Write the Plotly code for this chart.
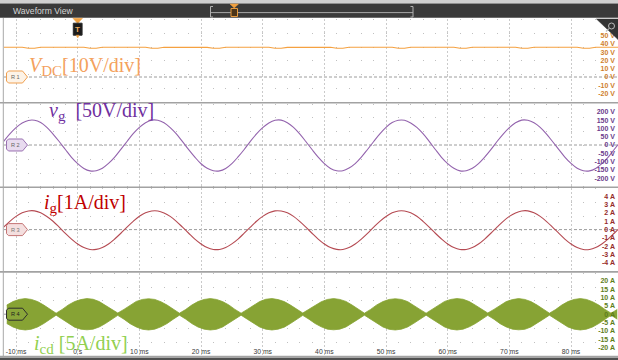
import plotly.graph_objects as go

W, H = 618, 360

# ---------------- data ----------------
t_ms = list(range(-12, 89))  # sample times (ms), 1 ms apart

vdc_V = [35.8, 35.9, 35.8, 35.8, 34.7, 34.6, 35.8, 35.9, 35.8, 35.8,
         35.8, 35.7, 35.8, 35.8, 34.6, 34.7, 35.8, 35.8, 35.9, 35.8,
         35.8, 35.8, 35.7, 35.8, 34.7, 34.6, 35.8, 35.8, 35.8, 35.9,
         35.8, 35.8, 35.8, 35.7, 34.6, 34.6, 35.8, 35.8, 35.8, 35.8,
         35.9, 35.8, 35.8, 35.8, 34.7, 34.6, 35.7, 35.8, 35.8, 35.8,
         35.8, 35.8, 35.9, 35.8, 34.6, 34.7, 35.8, 35.8, 35.7, 35.8,
         35.8, 35.8, 35.8, 35.8, 34.7, 34.6, 35.8, 35.9, 35.8, 35.8,
         35.8, 35.7, 35.8, 35.8, 34.6, 34.7, 35.8, 35.8, 35.8, 35.8,
         35.8, 35.8, 35.9, 35.8, 34.7, 34.6, 35.8, 35.8, 35.8, 35.7,
         35.8, 35.8, 35.8, 35.8, 34.6, 34.7, 35.8, 35.8, 35.8, 35.8,
         35.8]

vg_V = [22, 67, 105, 133, 148,
        149, 135, 106, 66, 21, -27, -74, -112, -141, -156, -155, -140, -111, -73, -26, 21, 68, 106, 134, 150,
        149, 134, 105, 67, 20, -28, -73, -113, -140, -155, -156, -141, -112, -72, -27, 22, 67, 105, 133, 149,
        150, 134, 106, 67, 21, -27, -73, -112, -141, -155, -155, -139, -112, -73, -27, 21, 67, 106, 135, 149,
        149, 133, 106, 68, 22, -27, -74, -112, -140, -156, -155, -140, -112, -73, -28, 21, 66, 105, 134, 150,
        149, 134, 106, 67, 21, -26, -73, -111, -140, -155, -156, -141, -112, -74, -27, 21]

ig_A = [0.30, 1.00, 1.59, 2.02, 2.25,
        2.26, 2.02, 1.58, 1.01, 0.30, -0.45, -1.14, -1.74, -2.16, -2.40, -2.38, -2.15, -1.73, -1.13, -0.44, 0.31, 1.00, 1.60, 2.03, 2.25,
        2.25, 2.01, 1.59, 1.00, 0.29, -0.44, -1.15, -1.73, -2.17, -2.39, -2.39, -2.16, -1.72, -1.14, -0.43, 0.30, 1.01, 1.59, 2.02, 2.26,
        2.24, 2.02, 1.59, 0.99, 0.30, -0.44, -1.14, -1.73, -2.16, -2.38, -2.40, -2.16, -1.73, -1.14, -0.45, 0.30, 1.00, 1.58, 2.02, 2.25,
        2.25, 2.03, 1.60, 1.00, 0.31, -0.44, -1.13, -1.73, -2.16, -2.39, -2.39, -2.17, -1.74, -1.14, -0.44, 0.29, 1.00, 1.59, 2.01, 2.25,
        2.26, 2.02, 1.59, 1.00, 0.30, -0.43, -1.14, -1.73, -2.15, -2.39, -2.39, -2.16, -1.73, -1.15, -0.44, 0.30]

t_icd_ms = [k + 0.5 for k in range(-12, 88)]  # envelope sample times (ms)
icd_upper_A = [5.5, 7.6, 8.9, 9.4, 8.9, 7.6, 5.5, 2.9, 0.6, 2.9,
               5.6, 7.6, 8.8, 9.4, 9.0, 7.6, 5.4, 2.9, 0.7, 2.9,
               5.5, 7.7, 8.9, 9.3, 8.9, 7.5, 5.5, 3.0, 0.6, 2.8,
               5.5, 7.6, 8.9, 9.4, 8.9, 7.6, 5.6, 2.9, 0.6, 2.9,
               5.4, 7.6, 9.0, 9.4, 8.8, 7.6, 5.5, 2.9, 0.7, 3.0,
               5.5, 7.5, 8.9, 9.4, 8.9, 7.7, 5.5, 2.8, 0.6, 2.9,
               5.6, 7.6, 8.9, 9.3, 8.9, 7.6, 5.5, 2.9, 0.6, 2.9,
               5.5, 7.7, 8.9, 9.4, 9.0, 7.6, 5.4, 2.9, 0.7, 2.9,
               5.5, 7.6, 8.8, 9.4, 8.9, 7.6, 5.5, 3.0, 0.6, 2.8,
               5.5, 7.6, 8.9, 9.4, 8.9, 7.5, 5.5, 2.9, 0.6, 2.9]
icd_lower_A = [-5.6, -7.7, -9.0, -9.5, -9.0, -7.7, -5.6, -3.0, -0.6, -3.0,
               -5.6, -7.8, -9.0, -9.4, -9.0, -7.7, -5.6, -2.9, -0.7, -3.0,
               -5.7, -7.7, -9.1, -9.5, -9.0, -7.6, -5.6, -3.0, -0.6, -2.9,
               -5.6, -7.7, -9.0, -9.5, -9.1, -7.7, -5.5, -3.0, -0.6, -3.0,
               -5.5, -7.7, -9.0, -9.5, -9.0, -7.8, -5.6, -2.9, -0.7, -3.0,
               -5.6, -7.6, -9.0, -9.4, -9.0, -7.7, -5.6, -3.0, -0.6, -2.9,
               -5.6, -7.7, -9.1, -9.5, -9.0, -7.7, -5.5, -3.0, -0.6, -3.0,
               -5.6, -7.7, -9.0, -9.5, -9.0, -7.6, -5.6, -2.9, -0.7, -3.0,
               -5.7, -7.7, -9.0, -9.4, -9.1, -7.7, -5.6, -3.0, -0.6, -2.9,
               -5.6, -7.7, -9.0, -9.5, -9.0, -7.7, -5.6, -3.0, -0.6, -3.0]

x_tickvals = [-10, 0, 10, 20, 30, 40, 50, 60, 70, 80]
x_ticktext = ["-10 ms", "0 s", "10 ms", "20 ms", "30 ms", "40 ms", "50 ms", "60 ms", "70 ms", "80 ms"]
vdc_tickvals = [50, 40, 30, 20, 10, 0, -10, -20]
vg_tickvals = [200, 150, 100, 50, 0, -50, -100, -150, -200]
ig_tickvals = [4, 3, 2, 1, 0, -1, -2, -3, -4]
icd_tickvals = [20, 15, 10, 5, 0, -5, -10, -15, -20]

SUB = "<sub><span style='font-size:15px'>{}</span></sub>"
channel_labels = ["<i>V</i>" + SUB.format("DC") + "[10V/div]",
                  "<i>v</i>" + SUB.format("g") + "&nbsp; [50V/div]",
                  "<i>i</i>" + SUB.format("g") + "[1A/div]",
                  "<i>i</i>" + SUB.format("cd") + " [5A/div]"]
tag_texts = ["R 1", "R 2", "R 3", "R 4"]

# ---------------- layout geometry / styles ----------------
def px(x):
    return x / W

def py(y):
    return 1 - y / H

X0_PX = 4.0
X_RANGE = [-11.95, 87.62]
PANEL_TOPS = [18.9, 103.5, 188.1, 272.7]
PANEL_H = 83.0
Y_RANGES = [[-30, 70], [-250, 250], [-5, 5], [-25, 25]]
TICKS = [vdc_tickvals, vg_tickvals, ig_tickvals, icd_tickvals]
UNITS = ["V", "V", "A", "A"]
TICK_COLORS = ["#cf7f2c", "#6b3c8c", "#952a2a", "#5e7d1a"]
LABEL_COLORS = ["#f4a15d", "#7030a0", "#c00000", "#92d050"]
LABEL_POS = [(27, 66.5), (47, 111.3), (42, 203), (32, 344.3)]
TAG_FILL = ["#fdf3e7", "#e8dbef", "#f4dfdf", "#8aa63a"]
TAG_LINE = ["#f0a050", "#9b72b2", "#c47474", "#2e2e2e"]
TAG_TEXT = ["#666666", "#666666", "#777777", "#1e1e1e"]

fig = go.Figure()

fig.add_trace(go.Scatter(x=t_ms, y=vdc_V, mode="lines", xaxis="x", yaxis="y",
                         line=dict(color="#f5a140", width=1.1), hoverinfo="skip"))
fig.add_trace(go.Scatter(x=t_ms, y=vg_V, mode="lines", xaxis="x2", yaxis="y2",
                         line=dict(color="#9363ad", width=1.1, shape="spline"), hoverinfo="skip"))
fig.add_trace(go.Scatter(x=t_ms, y=ig_A, mode="lines", xaxis="x3", yaxis="y3",
                         line=dict(color="#b54a52", width=1.1, shape="spline"), hoverinfo="skip"))
fig.add_trace(go.Scatter(x=t_icd_ms, y=icd_upper_A, mode="lines", xaxis="x4", yaxis="y4",
                         line=dict(color="#87a334", width=0.8), hoverinfo="skip"))
fig.add_trace(go.Scatter(x=t_icd_ms, y=icd_lower_A, mode="lines", xaxis="x4", yaxis="y4",
                         line=dict(color="#87a334", width=0.8), fill="tonexty",
                         fillcolor="#87a334", hoverinfo="skip"))

layout = dict(width=W, height=H, autosize=False, showlegend=False,
              margin=dict(l=0, r=0, t=0, b=0),
              paper_bgcolor="white", plot_bgcolor="white")

for i in range(4):
    sfx = "" if i == 0 else str(i + 1)
    top = PANEL_TOPS[i]
    bot = top + PANEL_H
    xa = dict(domain=[px(X0_PX), 1.0], range=X_RANGE, anchor="y" + sfx,
              tickmode="array", tickvals=x_tickvals, ticktext=x_ticktext,
              showgrid=True, gridcolor="#cacaca", gridwidth=1, griddash="2px,2px",
              minor=dict(tickmode="linear", tick0=0, dtick=2, showgrid=True,
                         gridcolor="#c0c0c0", gridwidth=1, griddash="1px,12.8px"),
              zeroline=False, showline=False, ticks="",
              showticklabels=(i == 3), fixedrange=True)
    if i == 3:
        # time labels drawn just above the bottom edge of the last panel
        xa.update(anchor="free", position=py(346.2), ticklabelposition="outside",
                  ticklabelstandoff=0,
                  tickfont=dict(family="Liberation Sans", size=6.8, color="#3a3a3a"))
    if i > 0:
        xa["matches"] = "x"
    layout["xaxis" + sfx] = xa
    layout["yaxis" + sfx] = dict(
        domain=[py(bot), py(top)], range=Y_RANGES[i], anchor="x" + sfx, side="right",
        tickmode="array", tickvals=TICKS[i],
        ticktext=[f"{v} {UNITS[i]}" for v in TICKS[i]],
        ticklabelposition="inside", ticks="",
        tickfont=dict(family="Liberation Sans", size=7, color=TICK_COLORS[i], weight="bold"),
        showgrid=False, zeroline=False, showline=False, fixedrange=True)

shapes = []
annotations = []

def zero_px(i):
    lo, hi = Y_RANGES[i]
    return PANEL_TOPS[i] + PANEL_H * hi / (hi - lo)

def rect(x0, y0, x1, y1, fill, line=None, lw=0, layer="above"):
    shapes.append(dict(type="rect", xref="paper", yref="paper",
                       x0=px(x0), x1=px(x1), y0=py(y1), y1=py(y0),
                       fillcolor=fill, line=dict(color=line or fill, width=lw), layer=layer))

def line(x0, y0, x1, y1, color, width=1, dash="solid", layer="above"):
    shapes.append(dict(type="line", xref="paper", yref="paper",
                       x0=px(x0), x1=px(x1), y0=py(y0), y1=py(y1),
                       line=dict(color=color, width=width, dash=dash), layer=layer))

def path(pts, fill, color, width=1, layer="above"):
    d = "M " + " L ".join(f"{px(a):.5f},{py(b):.5f}" for a, b in pts) + " Z"
    shapes.append(dict(type="path", xref="paper", yref="paper", path=d,
                       fillcolor=fill, line=dict(color=color, width=width), layer=layer))

# header
rect(0, 0, W, 3.5, "#d0d0d0")
rect(0, 3.5, W, 17.8, "#3a3a3a")
annotations.append(dict(text="Waveform View", xref="paper", yref="paper", x=px(11), y=py(10.8),
                        xanchor="left", yanchor="middle", showarrow=False,
                        font=dict(family="Liberation Sans", size=8.6, color="#d6d6d6")))
# time-overview bar in header
line(210.5, 12.6, 413, 12.6, "#a8a8a8", 1)
line(210.5, 6.5, 210.5, 17, "#b0b0b0", 1)
line(210.5, 6.5, 213, 6.5, "#b0b0b0", 1)
line(210.5, 17, 213, 17, "#b0b0b0", 1)
line(413, 6.5, 413, 17, "#b0b0b0", 1)
line(410.5, 6.5, 413, 6.5, "#b0b0b0", 1)
line(410.5, 17, 413, 17, "#b0b0b0", 1)
path([(230, 4), (238.5, 4), (234.2, 8)], "#f0a040", "#f0a040", 0.5)
rect(231, 8.5, 237.5, 16.5, "#4a3418", "#e79a3c", 1)

# panel zero reference lines and separators
for i in range(4):
    zy = zero_px(i)
    line(X0_PX, zy, W, zy, "#9c9c9c", 1, "3px,2px", layer="below")
for ys in [102.7, 187.3, 271.9]:
    line(0, ys, W, ys, "#a2a2a2", 1.6)
line(0, 356.4, W, 356.4, "#a2a2a2", 1.2)
rect(0, 357.6, W, 360, "#505050")
line(3.3, 18, 3.3, 356.4, "#a8a8a8", 1)

# channel reference tags on the left
for i in range(4):
    yc = zero_px(i)
    h = 6.0
    pts = [(8.5, yc - h), (22.5, yc - h), (27.5, yc), (22.5, yc + h), (8.5, yc + h),
           (6.5, yc + h - 2), (6.5, yc - h + 2)]
    path(pts, TAG_FILL[i], TAG_LINE[i], 1)
    annotations.append(dict(text=tag_texts[i], xref="paper", yref="paper", x=px(15.5), y=py(yc),
                            xanchor="center", yanchor="middle", showarrow=False,
                            font=dict(family="Liberation Sans", size=5.6, color=TAG_TEXT[i])))

# trigger marker at t = 0
tx = X0_PX + (0 - X_RANGE[0]) / (X_RANGE[1] - X_RANGE[0]) * (W - X0_PX)
path([(tx - 4.8, 18.3), (tx + 4.8, 18.3), (tx, 23.5)], "#f0a040", "#f0a040", 0.5)
rect(tx - 4.4, 23.2, tx + 4.4, 35.2, "#1b1b1b", "#2a2a2a", 1)
path([(tx - 1.5, 35.2), (tx + 1.5, 35.2), (tx, 38)], "#f0a040", "#f0a040", 0.5)
annotations.append(dict(text="<b>T</b>", xref="paper", yref="paper", x=px(tx), y=py(29.3),
                        xanchor="center", yanchor="middle", showarrow=False,
                        font=dict(family="Liberation Sans", size=8, color="#f3b060")))

# zoom icon (top right)
path([(596.5, 19), (W, 19), (W, 39.5)], "#333333", "#333333", 0.5)
shapes.append(dict(type="circle", xref="paper", yref="paper",
                   x0=px(608.5), x1=px(614.5), y0=py(29), y1=py(23),
                   line=dict(color="#bbbbbb", width=1), fillcolor="rgba(0,0,0,0)"))
line(608.8, 28.6, 606, 31.5, "#bbbbbb", 1.2)

# channel labels
for i in range(4):
    x, y = LABEL_POS[i]
    annotations.append(dict(text=channel_labels[i], xref="paper", yref="paper",
                            x=px(x), y=py(y), xanchor="left", yanchor="middle",
                            showarrow=False,
                            font=dict(family="Liberation Serif", size=20, color=LABEL_COLORS[i])))

layout["shapes"] = shapes
layout["annotations"] = annotations
fig.update_layout(**layout)

fig.write_html("out.html", config={"displayModeBar": False, "staticPlot": True},
               post_script="document.body.style.margin='0';document.body.style.overflow='hidden';")
